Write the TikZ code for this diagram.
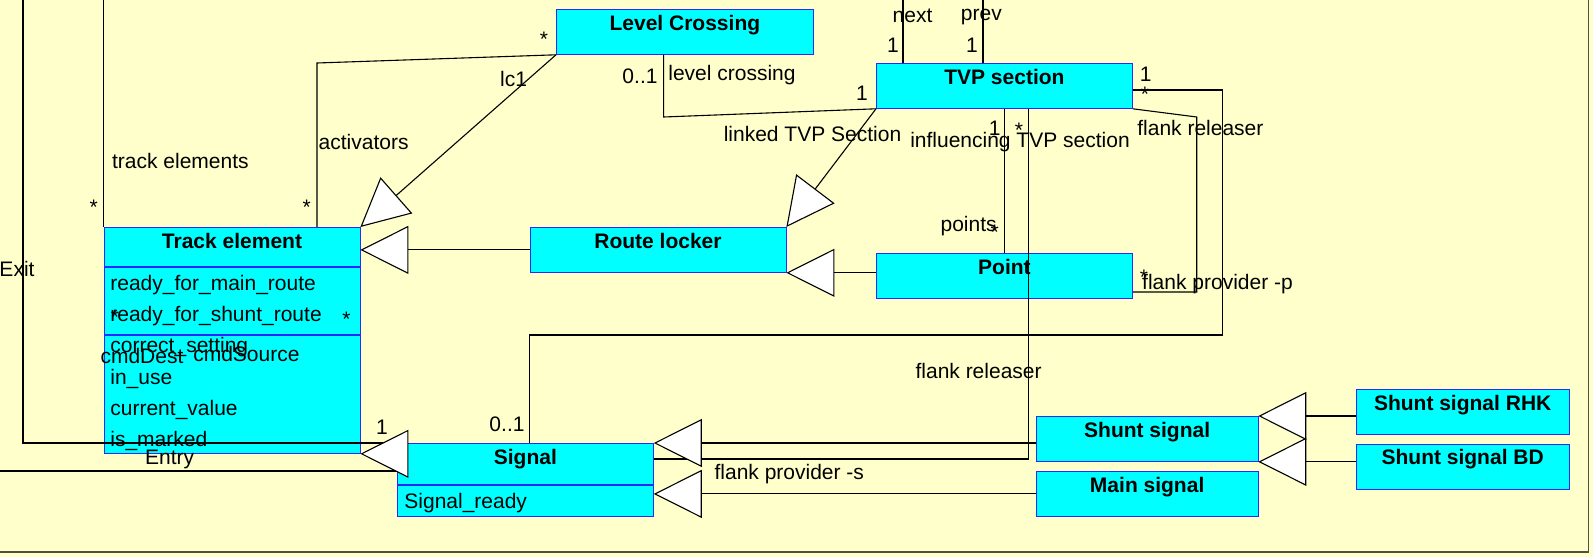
\documentclass[tikz,border=0pt]{standalone}
\usepackage{fontspec}
\setmainfont{Liberation Sans}
\usetikzlibrary{arrows.meta}
\definecolor{bgyellow}{RGB}{255,255,204}
\definecolor{clscyan}{RGB}{0,255,255}
\definecolor{clsblue}{RGB}{40,40,255}
\definecolor{framegray}{RGB}{80,80,60}

\begin{document}
\begin{tikzpicture}[
    x=0.5pt, y=-0.5pt,
    font=\fontsize{10.5}{12}\selectfont,
    cls/.style={rectangle, draw=clsblue, fill=clscyan, anchor=north west, inner sep=0pt,
        minimum width=128pt, minimum height=22.5pt, text height=10.5pt, text depth=12pt,
        font=\fontsize{10.5}{12}\selectfont\bfseries},
    attr/.style={anchor=west, inner sep=0pt, text height=7.5pt, text depth=0pt},
    lbl/.style={inner sep=0pt, text height=7.5pt, text depth=0pt},
    star/.style={lbl, yshift=-2pt},
    compline/.style={draw=clsblue, line width=0.6pt},
    assoc/.style={line width=0.55pt},
    gen/.style={-{Triangle[length=24pt, width=24pt, fill=white]}, line width=0.55pt}
]
    \useasboundingbox (0,0) rectangle (1593,557);
    \fill[bgyellow] (0,0) rectangle (1593,557);
    \draw[framegray, line width=0.8pt] (0,551.7) -- (1588.3,551.7) -- (1588.3,0);

    % Top: level crossing and TVP section
    \node[cls, minimum width=128.5pt] (lc) at (556,9) {Level Crossing};
    \node[cls] (tvp) at (876,63) {TVP section};

    % Middle: track element, route locker, point
    \node[cls, minimum height=113pt, text depth=102.5pt] (track) at (103.6,227) {Track element};
    \node[cls] (route) at (529.6,227) {Route locker};
    \node[cls] (point) at (876,253) {Point};

    % Bottom: signals
    \node[cls, minimum height=36.5pt, text depth=26pt] (signal) at (397,443) {Signal};
    \node[cls, minimum width=110.75pt] (shunt) at (1036,416) {Shunt signal};
    \node[cls, minimum width=110.75pt] (mainsig) at (1036,471) {Main signal};
    \node[cls, minimum width=106.75pt] (rhk) at (1355.5,389) {Shunt signal RHK};
    \node[cls, minimum width=106.75pt] (bd) at (1355.5,443.5) {Shunt signal BD};

    % Compartments
    \draw[compline] (track.west |- 0,267) -- (track.east |- 0,267);
    \draw[compline] (track.west |- 0,335) -- (track.east |- 0,335);
    \draw[compline] (signal.west |- 0,485) -- (signal.east |- 0,485);
    \node[attr] (te-main) at (110,283) {ready\_for\_main\_route};
    \node[attr] (te-shunt) at (110,314) {ready\_for\_shunt\_route};
    \node[attr] (te-setting) at (110,345) {correct\_setting};
    \node[attr] (te-inuse) at (110,377) {in\_use};
    \node[attr] (te-value) at (110,408) {current\_value};
    \node[attr] (te-marked) at (110,439) {is\_marked};
    \node[attr] (sig-ready) at (404,501) {Signal\_ready};

    % Associations
    \coordinate (top-te) at (103.6,0);
    \coordinate (top-exit) at (23,0);
    \coordinate (top-next) at (903,0);
    \coordinate (top-prev) at (983,0);
    \coordinate (left-entry) at (0,471);
    \draw[assoc] (track.north west) -- (top-te);
    \draw[assoc] (top-exit) -- (23,443) -- (signal.north west);
    \draw[assoc] (left-entry) -- (signal.west |- left-entry);
    \draw[assoc] (lc.south west) -- (317,63) -- (track.north -| 317,0);
    \draw[assoc] (lc.south -| 663.6,0) -- (663.6,117) -- (tvp.south west);
    \draw[assoc] (tvp.north -| top-next) -- (top-next);
    \draw[assoc] (tvp.north -| top-prev) -- (top-prev);
    \draw[assoc] (tvp.south -| 1004.6,0) -- (point.north -| 1004.6,0);
    \draw[assoc] (tvp.south -| 1028.6,0) -- (1028.6,459) -- (signal.east |- 0,459);
    \draw[assoc] (tvp.south east) -- (1196.7,117) -- (1196.7,292) -- (point.east |- 0,292);
    \draw[assoc] (tvp.east |- 0,90) -- (1222.4,90) -- (1222.4,335) -- (529.3,335) -- (signal.north -| 529.3,0);

    % Generalisations
    \draw[gen] (lc.south west) -- (track.north east);
    \draw[gen] (route.west) -- (route.west -| track.east);
    \draw[gen] (tvp.south west) -- (route.north east);
    \draw[gen] (point.west |- route.south east) -- (route.south east);
    \draw[gen] (signal.west |- track.south east) -- (track.south east);
    \draw[gen] (signal.north east -| shunt.west) -- (signal.north east);
    \draw[gen] (mainsig.west) -- (mainsig.west -| signal.east);
    \draw[gen] (rhk.west |- shunt.north east) -- (shunt.north east);
    \draw[gen] (bd.west |- shunt.south east) -- (shunt.south east);

    % Role names and multiplicities
    \node[star] (m-lc) at (544,35) {*};
    \node[lbl] (l-lc1) at (513.6,79) {lc1};
    \node[lbl] (l-act) at (363.6,142) {activators};
    \node[lbl] (l-te) at (180.4,161) {track elements};
    \node[star] (m-te1) at (93.6,203) {*};
    \node[star] (m-te2) at (306.8,203) {*};
    \node[lbl] (l-exit) at (17,269) {Exit};
    \node[lbl] (m-lc2) at (640,76) {0..1};
    \node[lbl] (l-lcr) at (732,73) {level crossing};
    \node[lbl] (m-tvp) at (862,93) {1};
    \node[lbl] (l-next) at (912.5,15) {next};
    \node[lbl] (l-prev) at (981.4,13) {prev};
    \node[lbl] (m-next) at (893,45) {1};
    \node[lbl] (m-prev) at (972,45) {1};
    \node[lbl] (l-linked) at (812.5,134) {linked TVP Section};
    \node[lbl] (l-infl) at (1020,140) {influencing TVP section};
    \node[lbl] (m-infl1) at (994.6,128) {1};
    \node[star] (m-infl2) at (1019,126) {*};
    \node[lbl] (l-points) at (968.6,224) {points};
    \node[star] (m-points) at (994.6,228) {*};
    \node[lbl] (m-fr1) at (1145.6,74) {1};
    \node[star] (m-fr2) at (1145,90) {*};
    \node[lbl] (l-fr1) at (1200.4,128) {flank releaser};
    \node[star] (m-fp) at (1144,273) {*};
    \node[lbl] (l-fpp) at (1217.5,282) {flank provider -p};
    \node[star] (m-cmd1) at (115,313) {*};
    \node[star] (m-cmd2) at (346.4,315) {*};
    \node[lbl] (l-dest) at (142,356) {cmdDest};
    \node[lbl] (l-src) at (246.4,354) {cmdSource};
    \node[lbl] (m-exit) at (382,427) {1};
    \node[lbl] (l-entry) at (169.6,457) {Entry};
    \node[lbl] (m-sig) at (507,424) {0..1};
    \node[lbl] (l-fr2) at (978.6,371) {flank releaser};
    \node[lbl] (l-fps) at (789.3,472) {flank provider -s};

\end{tikzpicture}
\end{document}
